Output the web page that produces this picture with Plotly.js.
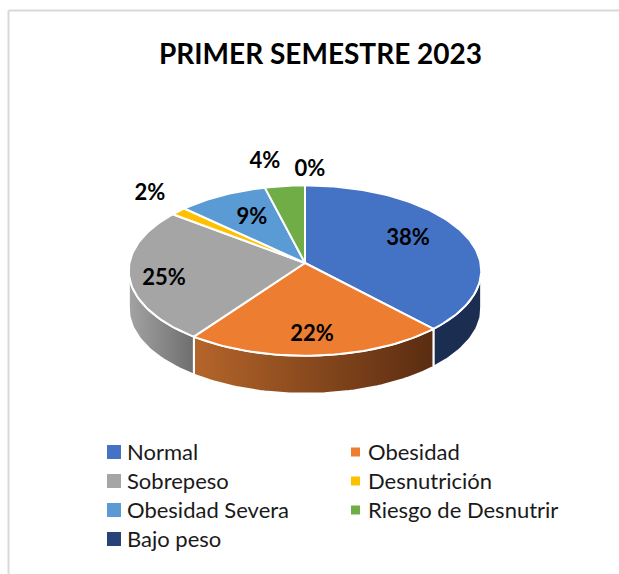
<!DOCTYPE html>
<html>
<head>
<meta charset="utf-8">
<script src="https://cdn.plot.ly/plotly-3.0.1.min.js"></script>
<style>html,body{margin:0;padding:0;background:#fff}#chart{width:619px;height:574px}</style>
</head>
<body>
<div id="chart"></div>
<script>
const categories = ['Normal','Obesidad','Sobrepeso','Desnutrición','Obesidad Severa','Riesgo de Desnutrir','Bajo peso'];
const values = [38,22,25.4,1.6,9,4,0];
const topColors = ['#4472C4','#ED7D31','#A5A5A5','#FFC000','#5B9BD5','#70AD47','#264478'];
const rimColorsLeft = ['#1B2E52','#B5652A','#A3A3A3','#A07A00','#3A6A95','#4A7530','#16294A'];
const rimColorsRight = ['#1B2E52','#5A2C11','#6E6E6E','#A07A00','#3A6A95','#4A7530','#16294A'];
const legendSizes = [14,9,14,9,14,9,14];
const legendMarkerX = [114,355.5,114,355.5,114,355.5,114];
const legendTextX = [127,368,127,368,127,368,127];
const legendRowY = [452,452,481,481,510,510,539];
const labelX = [408,312,164,150,252,265,310];
const labelY = [239,335,279,194,218,162,170];

const CX = 305, CY = 263, RX = 175.5, RY = 84.5, K = 0.0888, DEPTH = 38;
const total = values.reduce((a,b)=>a+b,0);

function pt(deg, drop){
  const t = deg*Math.PI/180, X = Math.sin(t), Y = -Math.cos(t), s = 1/(1-K*Y);
  return [CX + RX*X*s, CY + RY*Y*s + drop];
}
function arc(a,b,drop){
  const out = [], n = Math.max(2, Math.ceil(Math.abs(b-a)/1.5));
  for(let i=0;i<=n;i++) out.push(pt(a+(b-a)*i/n, drop));
  return out;
}

const rimTraces = [], topTraces = [];
let start = 0;
categories.forEach((name,i)=>{
  const sweep = values[i]/total*360, end = start+sweep;
  const a = Math.max(start,94), b = Math.min(end,266);
  if(b>a){
    const poly = arc(a,b,0).concat(arc(b,a,DEPTH));
    poly.push(poly[0]);
    const xs = poly.map(p=>p[0]);
    rimTraces.push({x:xs,y:poly.map(p=>p[1]),type:'scatter',mode:'lines',fill:'toself',name:name,
      line:{color:'#ffffff',width:2},showlegend:false,hoverinfo:'skip',
      fillgradient:{type:'horizontal',start:Math.min(...xs),stop:Math.max(...xs),
        colorscale:[[0,rimColorsLeft[i]],[1,rimColorsRight[i]]]}});
  }
  if(sweep>0){
    const poly = [[CX,CY]].concat(arc(start,end,0),[[CX,CY]]);
    topTraces.push({x:poly.map(p=>p[0]),y:poly.map(p=>p[1]),type:'scatter',mode:'lines',fill:'toself',name:name,
      fillcolor:topColors[i],line:{color:'#ffffff',width:2},showlegend:false,hoverinfo:'skip'});
  }
  start = end;
});

const labelTrace = {x:labelX,y:labelY,type:'scatter',mode:'text',
  text:values.map(v=>Math.round(v/total*100)+'%'),textposition:'middle center',
  textfont:{family:'Lato, sans-serif',size:22,color:'#000',weight:700},
  showlegend:false,hoverinfo:'skip'};
const legendMarkers = {x:legendMarkerX,y:legendRowY,type:'scatter',mode:'markers',
  marker:{symbol:'square',size:legendSizes,color:topColors,opacity:1,line:{width:0}},
  showlegend:false,hoverinfo:'skip'};
const legendLabels = {x:legendTextX,y:legendRowY.map(v=>v+2),type:'scatter',mode:'text',text:categories,
  textposition:'middle right',textfont:{family:'Lato, sans-serif',size:22,color:'#1a1a1a'},
  showlegend:false,hoverinfo:'skip',cliponaxis:false};

const layout = {
  width:619,height:574,margin:{l:0,r:0,t:0,b:0,autoexpand:false},
  paper_bgcolor:'#fff',plot_bgcolor:'#fff',
  xaxis:{range:[0,619],visible:false,fixedrange:true},
  yaxis:{range:[574,0],visible:false,fixedrange:true},
  title:{text:'<b>PRIMER SEMESTRE 2023</b>',x:320.5/619,xref:'paper',xanchor:'center',
    y:1-54/574,yref:'paper',yanchor:'middle',font:{family:'Lato, sans-serif',size:28,color:'#000'}},
  shapes:[
    {type:'line',xref:'x',yref:'y',x0:8.5,x1:8.5,y0:10.5,y1:574,line:{color:'#d9d9d9',width:2}},
    {type:'line',xref:'x',yref:'y',x0:8.5,x1:619,y0:10.5,y1:10.5,line:{color:'#d9d9d9',width:2}}
  ],
  showlegend:false
};
Plotly.newPlot('chart',[...rimTraces,...topTraces,labelTrace,legendMarkers,legendLabels],layout,{displayModeBar:false,staticPlot:true});
</script>
</body>
</html>
